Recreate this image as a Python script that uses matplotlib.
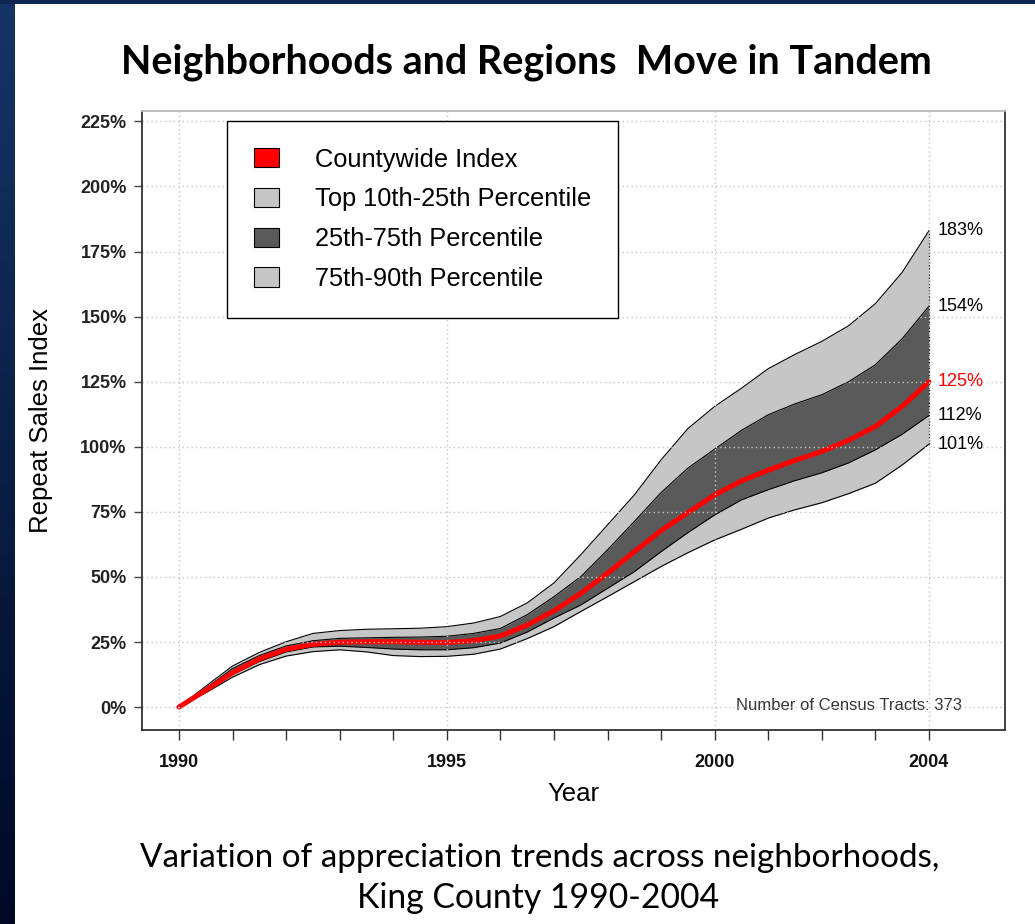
import matplotlib
matplotlib.use("Agg")
import matplotlib.pyplot as plt
import numpy as np
from matplotlib.patches import Patch
from matplotlib.colors import LinearSegmentedColormap

# --- data (percent change since 1990) ---
years = [1990, 1990.5, 1991, 1991.5, 1992, 1992.5, 1993, 1993.5, 1994, 1994.5,
         1995, 1995.5, 1996, 1996.5, 1997, 1997.5, 1998, 1998.5, 1999, 1999.5,
         2000, 2000.5, 2001, 2001.5, 2002, 2002.5, 2003, 2003.5, 2004]
county = [0, 6.5, 13.2, 18.5, 22.2, 24.1, 24.9, 25.1, 25.1, 24.9,
          24.8, 25.5, 27.3, 31.5, 37.0, 43.7, 51.4, 59.7, 67.8, 74.7,
          81.5, 86.9, 91.0, 94.8, 98.2, 102.5, 107.8, 115.5, 125.0]
p90 = [0, 8.0, 15.8, 21.0, 25.1, 28.3, 29.4, 29.9, 30.1, 30.3,
       30.9, 32.3, 34.8, 40.0, 47.7, 58.5, 70.0, 81.5, 95.0, 107.0,
       115.5, 122.5, 130.0, 135.5, 140.5, 146.5, 155.0, 167.0, 183.0]
p75 = [0, 7.2, 14.8, 19.8, 23.5, 25.5, 26.4, 26.6, 26.8, 26.9,
       27.2, 28.3, 30.2, 35.5, 42.4, 50.1, 60.4, 71.3, 82.4, 91.8,
       99.1, 106.3, 112.3, 116.5, 120.0, 125.0, 131.5, 141.5, 154.0]
p25 = [0, 6.0, 12.5, 17.5, 21.2, 23.1, 23.4, 22.9, 22.3, 22.0,
       22.0, 22.8, 24.6, 28.8, 34.2, 39.2, 45.6, 52.0, 59.7, 67.0,
       73.8, 79.6, 83.5, 87.0, 90.0, 93.8, 98.8, 104.8, 112.0]
p10 = [0, 5.5, 11.5, 16.3, 19.6, 21.3, 22.0, 21.2, 19.8, 19.4,
       19.5, 20.3, 22.3, 26.3, 30.9, 36.7, 42.4, 48.2, 54.0, 59.3,
       64.2, 68.3, 72.6, 75.8, 78.5, 82.0, 86.0, 93.0, 101.0]

legend_labels = ["Countywide Index", "Top 10th-25th Percentile",
                 "25th-75th Percentile", "75th-90th Percentile"]
label_years = [1990, 1995, 2000, 2004]
y_ticks = [0, 25, 50, 75, 100, 125, 150, 175, 200, 225]
n_tracts = 373

light = "#c6c6c6"
dark = "#5a5a5a"
red = "#ff0000"
grid_col = "#c4c4c4"

plt.rcParams["font.family"] = ["Liberation Sans", "DejaVu Sans"]

fig = plt.figure(figsize=(10.35, 9.24), dpi=100)
fig.patch.set_facecolor("white")

# slide border: gradient strip on the left, thin strip on top
grad = LinearSegmentedColormap.from_list("slide", ["#153566", "#000826"])
bax = fig.add_axes([0, 0, 15 / 1035, 1])
bax.imshow(np.linspace(0, 1, 256).reshape(-1, 1), aspect="auto", cmap=grad)
bax.set_axis_off()
tax = fig.add_axes([0, 1 - 4 / 924, 1, 4 / 924])
tax.set_facecolor("#0e2651")
tax.set_xticks([])
tax.set_yticks([])
for s in tax.spines.values():
    s.set_visible(False)

ax = fig.add_axes([142 / 1035, 1 - 730 / 924, (1005 - 142) / 1035, (730 - 111) / 924])

# bands
ax.fill_between(years, p75, p90, color=light, lw=0, zorder=1)
ax.fill_between(years, p25, p75, color=dark, lw=0, zorder=1)
ax.fill_between(years, p10, p25, color=light, lw=0, zorder=1)
for band in (p10, p25, p75, p90):
    ax.plot(years, band, color="black", lw=0.8, zorder=1.5)
ax.vlines(years[-1], p10[-1], p90[-1], colors="black", linestyles=(0, (1, 1.5)),
          lw=0.9, zorder=1.6)
ax.plot(years, county, color=red, lw=3.6, solid_capstyle="round", zorder=2)

# dotted grid drawn on top of the bands
for yv in y_ticks:
    ax.axhline(yv, color=grid_col, lw=1, ls=(0, (1, 2.2)), zorder=2.5)
for xv in label_years:
    ax.axvline(xv, color=grid_col, lw=1, ls=(0, (1, 2.2)), zorder=2.5)

ax.set_xlim(1989.31, 2005.42)
ax.set_ylim(-8.8, 229)

ax.set_yticks(y_ticks)
ax.set_yticklabels([f"{v}%" for v in y_ticks], fontsize=13, fontweight="bold",
                   color="#222222")
ax.set_xticks(label_years)
ax.set_xticklabels([str(v) for v in label_years], fontsize=13, fontweight="bold",
                   color="#111111")
ax.set_xticks(range(1990, 2005), minor=True)
ax.tick_params(axis="y", length=6, width=1, color="#444444", pad=5)
ax.tick_params(axis="x", which="both", length=7.5, width=1, color="#333333", pad=10)

for name, s in ax.spines.items():
    s.set_color("#333333")
    s.set_linewidth(1.3)
ax.spines["top"].set_color("#b8b8b8")

ax.set_xlabel("Year", fontsize=18.5, labelpad=8)
ax.set_ylabel("Repeat Sales Index", fontsize=18.5, labelpad=20)

# end-of-series labels
ends = [(p90[-1], "black"), (p75[-1], "black"), (county[-1], red),
        (p25[-1], "black"), (p10[-1], "black")]
for v, c in ends:
    ax.text(years[-1] + 0.17, v, f"{v:.0f}%", color=c, fontsize=13,
            ha="left", va="center")

ax.text(2004.62, 0.8, f"Number of Census Tracts: {n_tracts}", fontsize=12,
        color="#333333", ha="right", va="center", zorder=2)

handles = [Patch(facecolor=red, edgecolor="black", lw=0.8),
           Patch(facecolor=light, edgecolor="black", lw=0.8),
           Patch(facecolor=dark, edgecolor="black", lw=0.8),
           Patch(facecolor=light, edgecolor="black", lw=0.8)]
leg = ax.legend(handles, legend_labels, loc="upper left",
                bbox_to_anchor=(0.0985, 0.984), borderaxespad=0,
                fontsize=18.3, frameon=True, fancybox=False, framealpha=1,
                edgecolor="black", handlelength=1.0, handleheight=0.8,
                handletextpad=1.4, labelspacing=0.62, borderpad=1.05)
leg.get_frame().set_linewidth(1.0)
leg.set_zorder(5)

# slide title and caption
title = fig.text(526 / 1035, 1 - 62 / 924, "Neighborhoods and Regions  Move in Tandem",
                 fontsize=28, fontweight="bold", family=["Lato", "DejaVu Sans"],
                 ha="center", va="center")
cap1 = fig.text(540 / 1035, 1 - 858 / 924,
                "Variation of appreciation trends across neighborhoods,",
                fontsize=24, family=["Lato", "DejaVu Sans"], ha="center", va="center")
cap2 = fig.text(538 / 1035, 1 - 898 / 924, "King County 1990-2004",
                fontsize=24, family=["Lato", "DejaVu Sans"], ha="center", va="center")

# fit the slide text widths to the original layout
fig.canvas.draw()
r = fig.canvas.get_renderer()
for t, width in ((title, 812), (cap1, 800), (cap2, 363)):
    w = t.get_window_extent(r).width
    t.set_fontsize(t.get_fontsize() * width / w)

fig.savefig("out.png", dpi=100, facecolor="white")
